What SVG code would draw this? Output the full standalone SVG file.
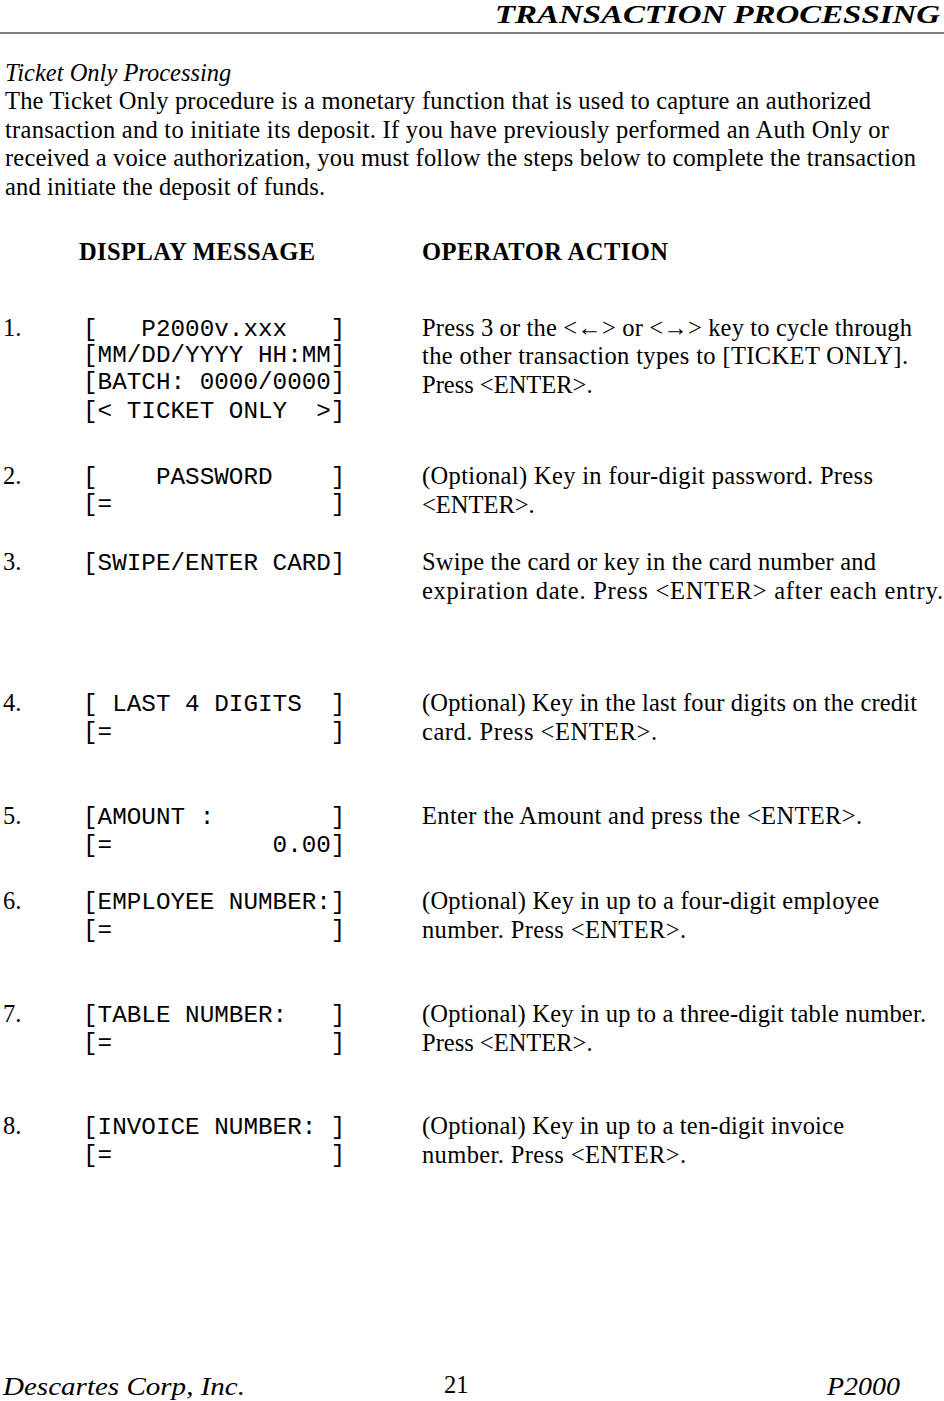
<svg xmlns="http://www.w3.org/2000/svg" width="944" height="1401" viewBox="0 0 944 1401">
<style>
.s{font-family:"Liberation Serif",serif;font-size:24.5px;fill:#000}
.m{font-family:"Liberation Mono",monospace;font-size:24.3px;fill:#000;white-space:pre}
.b{font-weight:bold}
.i{font-style:italic}
</style>
<rect width="944" height="1401" fill="#fff"/>
<g id="header">
<text class="s b i" x="495" y="23" font-size="31" textLength="445" lengthAdjust="spacingAndGlyphs">TRANSACTION PROCESSING</text>
<line x1="0" y1="33" x2="944" y2="33" stroke="#000" stroke-width="1"/>
</g>
<g id="intro">
<text class="s i" x="5" y="81" font-size="19.5">Ticket Only Processing</text>
<text class="s" x="5" y="109" textLength="866">The Ticket Only procedure is a monetary function that is used to capture an authorized</text>
<text class="s" x="5" y="138" textLength="884">transaction and to initiate its deposit.  If you have previously performed an Auth Only or</text>
<text class="s" x="5" y="166" textLength="911">received a voice authorization, you must follow the steps below to complete the transaction</text>
<text class="s" x="5" y="195" textLength="320">and initiate the deposit of funds.</text>
</g>
<g id="headings">
<text class="s b" x="79" y="260" textLength="236">DISPLAY MESSAGE</text>
<text class="s b" x="422" y="260" textLength="246">OPERATOR ACTION</text>
</g>
<g id="step1">
<text class="s" x="3" y="336">1.</text>
<text class="m" x="83" y="336" xml:space="preserve">[   P2000v.xxx   ]</text>
<text class="m" x="83" y="362" xml:space="preserve">[MM/DD/YYYY HH:MM]</text>
<text class="m" x="83" y="389" xml:space="preserve">[BATCH: 0000/0000]</text>
<text class="m" x="83" y="418" xml:space="preserve">[&lt; TICKET ONLY  &gt;]</text>
<text class="s" x="422" y="336" textLength="490">Press 3 or the &lt;←&gt; or &lt;→&gt; key to cycle through</text>
<text class="s" x="422" y="364" textLength="486">the other transaction types to [TICKET  ONLY].</text>
<text class="s" x="422" y="393">Press &lt;ENTER&gt;.</text>
</g>
<g id="step2">
<text class="s" x="3" y="484">2.</text>
<text class="m" x="83" y="484" xml:space="preserve">[    PASSWORD    ]</text>
<text class="m" x="83" y="511" xml:space="preserve">[=               ]</text>
<text class="s" x="422" y="484" textLength="451">(Optional) Key in four-digit password.  Press</text>
<text class="s" x="422" y="513">&lt;ENTER&gt;.</text>
</g>
<g id="step3">
<text class="s" x="3" y="570">3.</text>
<text class="m" x="83" y="570" xml:space="preserve">[SWIPE/ENTER CARD]</text>
<text class="s" x="422" y="570" textLength="454">Swipe the card or key in the card number and</text>
<text class="s" x="422" y="599" textLength="521">expiration date. Press &lt;ENTER&gt; after each entry.</text>
</g>
<g id="step4">
<text class="s" x="3" y="711">4.</text>
<text class="m" x="83" y="711" xml:space="preserve">[ LAST 4 DIGITS  ]</text>
<text class="m" x="83" y="739" xml:space="preserve">[=               ]</text>
<text class="s" x="422" y="711" textLength="495">(Optional) Key in the last four digits on the credit</text>
<text class="s" x="422" y="740" textLength="235">card.  Press &lt;ENTER&gt;.</text>
</g>
<g id="step5">
<text class="s" x="3" y="824">5.</text>
<text class="m" x="83" y="824" xml:space="preserve">[AMOUNT :        ]</text>
<text class="m" x="83" y="852" xml:space="preserve">[=           0.00]</text>
<text class="s" x="422" y="824" textLength="440">Enter the Amount and press the &lt;ENTER&gt;.</text>
</g>
<g id="step6">
<text class="s" x="3" y="909">6.</text>
<text class="m" x="83" y="909" xml:space="preserve">[EMPLOYEE NUMBER:]</text>
<text class="m" x="83" y="937" xml:space="preserve">[=               ]</text>
<text class="s" x="422" y="909" textLength="457">(Optional) Key in up to a four-digit employee</text>
<text class="s" x="422" y="938" textLength="264">number. Press &lt;ENTER&gt;.</text>
</g>
<g id="step7">
<text class="s" x="3" y="1022">7.</text>
<text class="m" x="83" y="1022" xml:space="preserve">[TABLE NUMBER:   ]</text>
<text class="m" x="83" y="1050" xml:space="preserve">[=               ]</text>
<text class="s" x="422" y="1022" textLength="504">(Optional) Key in up to a three-digit table number.</text>
<text class="s" x="422" y="1051">Press &lt;ENTER&gt;.</text>
</g>
<g id="step8">
<text class="s" x="3" y="1134">8.</text>
<text class="m" x="83" y="1134" xml:space="preserve">[INVOICE NUMBER: ]</text>
<text class="m" x="83" y="1162" xml:space="preserve">[=               ]</text>
<text class="s" x="422" y="1134" textLength="422">(Optional) Key in up to a ten-digit invoice</text>
<text class="s" x="422" y="1163" textLength="264">number. Press &lt;ENTER&gt;.</text>
</g>
<g id="footer">
<text class="s i" x="3" y="1395" font-size="29" textLength="242" lengthAdjust="spacingAndGlyphs">Descartes Corp, Inc.</text>
<text class="s" x="444" y="1393" font-size="19">21</text>
<text class="s i" x="827" y="1395" font-size="29" textLength="73" lengthAdjust="spacingAndGlyphs">P2000</text>
</g>
</svg>
